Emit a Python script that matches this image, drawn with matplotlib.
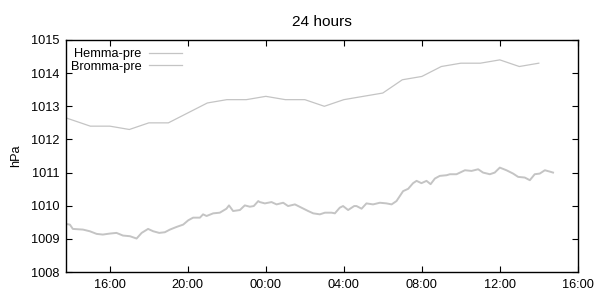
import matplotlib.pyplot as plt
from matplotlib.ticker import FuncFormatter, MultipleLocator

plt.rcParams['font.family'] = ['Liberation Sans', 'DejaVu Sans']
plt.rcParams['font.size'] = 9.2

# times in hours from midnight of the first day (24 = 00:00 next day)
hemma_t = [13.75, 15, 16, 17, 18, 19, 20, 21, 22, 23, 24, 25, 26, 27, 28,
           29, 30, 31, 32, 33, 34, 35, 36, 37, 38]
hemma_p = [1012.65, 1012.4, 1012.4, 1012.3, 1012.5, 1012.5, 1012.8, 1013.1,
           1013.2, 1013.2, 1013.3, 1013.2, 1013.2, 1013.0, 1013.2, 1013.3,
           1013.4, 1013.8, 1013.9, 1014.2, 1014.3, 1014.3, 1014.4, 1014.2,
           1014.3]

bromma_t = [13.75, 13.95, 14.10, 14.62, 14.97, 15.32, 15.64, 16.00, 16.34,
            16.67, 17.03, 17.37, 17.63, 17.96, 18.22, 18.53, 18.82, 19.08,
            19.42, 19.76, 20.02, 20.27, 20.62, 20.78, 20.96, 21.30, 21.64,
            21.98, 22.11, 22.32, 22.67, 22.92, 23.18, 23.38, 23.61, 23.69,
            23.95, 24.29, 24.55, 24.89, 25.14, 25.49, 25.83, 26.17, 26.43,
            26.77, 27.03, 27.37, 27.54, 27.79, 27.96, 28.22, 28.53, 28.65,
            28.91, 29.16, 29.50, 29.85, 30.19, 30.45, 30.70, 30.87, 31.04,
            31.30, 31.55, 31.73, 31.98, 32.24, 32.45, 32.67, 32.92, 33.27,
            33.44, 33.78, 34.21, 34.55, 34.89, 35.14, 35.49, 35.74, 36.00,
            36.34, 36.68, 36.94, 37.28, 37.54, 37.79, 38.05, 38.31, 38.56,
            38.73]
bromma_p = [1009.45, 1009.43, 1009.30, 1009.28, 1009.23, 1009.15, 1009.13,
            1009.16, 1009.18, 1009.10, 1009.08, 1009.01, 1009.18, 1009.30,
            1009.23, 1009.18, 1009.20, 1009.28, 1009.36, 1009.43, 1009.56,
            1009.64, 1009.64, 1009.74, 1009.69, 1009.77, 1009.79, 1009.91,
            1010.01, 1009.84, 1009.87, 1010.01, 1009.97, 1009.99, 1010.14,
            1010.11, 1010.07, 1010.11, 1010.04, 1010.09, 1009.99, 1010.04,
            1009.94, 1009.84, 1009.77, 1009.74, 1009.79, 1009.79, 1009.77,
            1009.94, 1009.99, 1009.87, 1009.99, 1009.99, 1009.91, 1010.07,
            1010.04, 1010.09, 1010.07, 1010.04, 1010.14, 1010.29, 1010.44,
            1010.51, 1010.68, 1010.75, 1010.68, 1010.75, 1010.65, 1010.82,
            1010.90, 1010.92, 1010.95, 1010.95, 1011.07, 1011.05, 1011.10,
            1011.00, 1010.95, 1011.00, 1011.15, 1011.07, 1010.97, 1010.87,
            1010.85, 1010.77, 1010.95, 1010.97, 1011.07, 1011.03, 1011.00]

fig = plt.figure(figsize=(6, 3), dpi=100)
ax = fig.add_axes([0.11, 0.0933, 0.853, 0.7734])

ax.plot(hemma_t, hemma_p, color='#c4c4c4', lw=0.9, label='Hemma-pre')
ax.plot(bromma_t, bromma_p, color='#c4c4c4', lw=1.4, label='Bromma-pre')

ax.set_xlim(13.75, 40)
ax.set_ylim(1008, 1015)
ax.xaxis.set_major_locator(MultipleLocator(4))
ax.yaxis.set_major_locator(MultipleLocator(1))
ax.xaxis.set_major_formatter(FuncFormatter(lambda v, p: '%02d:00' % (int(round(v)) % 24)))
ax.tick_params(direction='in', length=4, width=0.8, top=True, right=True,
               colors='black', pad=5)
for s in ax.spines.values():
    s.set_linewidth(1.0)

ax.set_ylabel('hPa', labelpad=6)
ax.set_title('24 hours', pad=10)

leg = ax.legend(loc='upper left', bbox_to_anchor=(0.01, 0.965), frameon=False,
                markerfirst=False, handlelength=2.6, handletextpad=0.55,
                labelspacing=0.05, borderpad=0, borderaxespad=0)
for h in leg.legend_handles:
    h.set_linewidth(0.9)

fig.savefig('out.png', dpi=100)
